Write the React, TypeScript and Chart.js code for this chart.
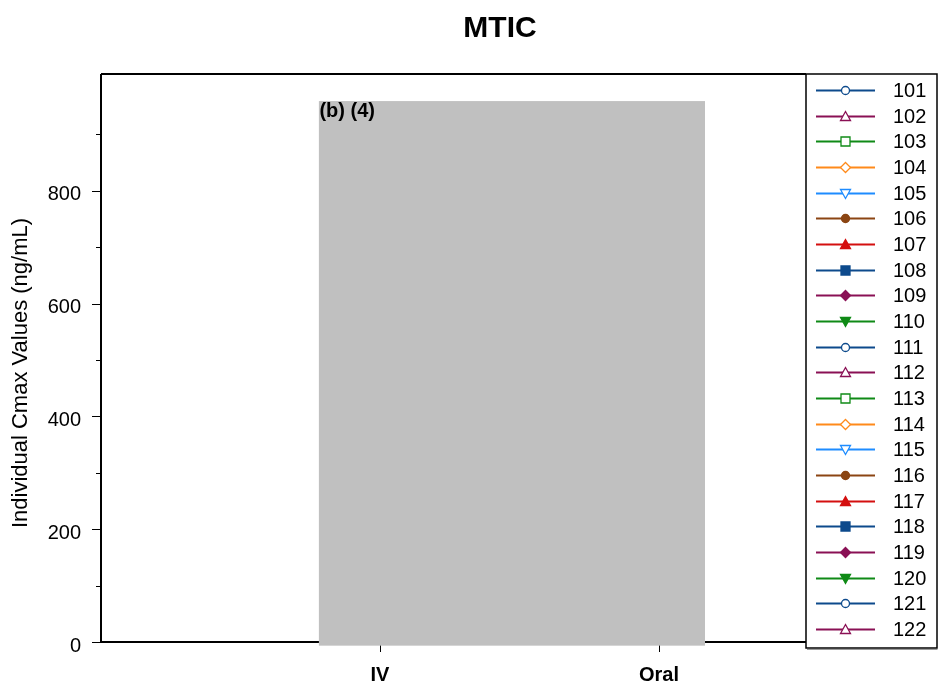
import React, { useEffect, useRef } from 'react';
import { Chart, registerables } from 'chart.js';

Chart.register(...registerables);

// ---------- data ----------
const TITLE = 'MTIC';
const Y_TITLE = 'Individual Cmax Values (ng/mL)';
const CATEGORIES = ['IV', 'Oral'];
const CATEGORY_X = [1, 2];
const X_RANGE = [0, 2.527];
const Y_RANGE = [0, 1007];
const Y_TICKS = [0, 100, 200, 300, 400, 500, 600, 700, 800, 900];
const Y_LABELED = [0, 200, 400, 600, 800];
const SUBJECTS = [
  '101', '102', '103', '104', '105', '106', '107', '108', '109', '110', '111',
  '112', '113', '114', '115', '116', '117', '118', '119', '120', '121', '122',
];
// Individual values are concealed by the redaction box in the source; none are readable.
const SUBJECT_VALUES: number[][] = [
  [], [], [], [], [], [], [], [], [], [], [],
  [], [], [], [], [], [], [], [], [], [], [],
];
const REDACT_LABEL = '(b) (4)';
const REDACT_X = [0.781, 2.165];
const REDACT_Y = [-6.5, 959];

// ---------- styles ----------
const STYLE_COLORS = ['#0d4a8c', '#8a1055', '#0f8a16', '#ff8a1a', '#1e8cff', '#8b4513', '#d40f0f', '#0d4a8c', '#8a1055', '#0f8a16'];
const STYLE_MARKERS = ['circle', 'triangle', 'square', 'diamond', 'down', 'circle', 'triangle', 'square', 'diamond', 'down'];
const STYLE_FILLED = [false, false, false, false, false, true, true, true, true, true];
const FONT = '"Liberation Sans", Arial, Helvetica, sans-serif';

function markerPath(ctx: CanvasRenderingContext2D, kind: string, x: number, y: number) {
  ctx.beginPath();
  if (kind === 'circle') {
    ctx.arc(x, y, 4, 0, Math.PI * 2);
  } else if (kind === 'triangle') {
    ctx.moveTo(x, y - 5);
    ctx.lineTo(x + 5, y + 4);
    ctx.lineTo(x - 5, y + 4);
    ctx.closePath();
  } else if (kind === 'down') {
    ctx.moveTo(x, y + 5);
    ctx.lineTo(x + 5, y - 4);
    ctx.lineTo(x - 5, y - 4);
    ctx.closePath();
  } else if (kind === 'square') {
    ctx.rect(x - 4.5, y - 4.5, 9, 9);
  } else if (kind === 'diamond') {
    ctx.moveTo(x, y - 5);
    ctx.lineTo(x + 5, y);
    ctx.lineTo(x, y + 5);
    ctx.lineTo(x - 5, y);
    ctx.closePath();
  }
}

const decorPlugin = {
  id: 'decor',
  beforeDatasetsDraw(chart: any) {
    const { ctx, chartArea: a, scales } = chart;
    const x = scales.x;
    const y = scales.y;
    ctx.save();
    ctx.strokeStyle = '#000';
    ctx.lineWidth = 2;
    ctx.beginPath();
    ctx.moveTo(a.left, a.top);
    ctx.lineTo(a.right, a.top);
    ctx.moveTo(a.left, a.top);
    ctx.lineTo(a.left, a.bottom);
    ctx.moveTo(a.left, a.bottom);
    ctx.lineTo(a.right, a.bottom);
    ctx.stroke();
    ctx.lineWidth = 1;
    ctx.beginPath();
    Y_TICKS.forEach((v) => {
      const py = Math.round(y.getPixelForValue(v)) + 0.5;
      const len = Y_LABELED.includes(v) ? 9 : 5;
      ctx.moveTo(a.left - len, py);
      ctx.lineTo(a.left, py);
    });
    CATEGORY_X.forEach((v) => {
      const px = Math.round(x.getPixelForValue(v)) + 0.5;
      ctx.moveTo(px, a.bottom);
      ctx.lineTo(px, a.bottom + 10);
    });
    ctx.stroke();
    ctx.restore();
  },
  afterDatasetsDraw(chart: any) {
    const { ctx, scales } = chart;
    const x = scales.x;
    const y = scales.y;
    const x0 = x.getPixelForValue(REDACT_X[0]);
    const x1 = x.getPixelForValue(REDACT_X[1]);
    const y0 = y.getPixelForValue(REDACT_Y[1]);
    const y1 = y.getPixelForValue(REDACT_Y[0]);
    ctx.save();
    ctx.fillStyle = '#c0c0c0';
    ctx.fillRect(x0, y0, x1 - x0, y1 - y0);
    ctx.fillStyle = '#000';
    ctx.font = `bold 20px ${FONT}`;
    ctx.textAlign = 'left';
    ctx.textBaseline = 'alphabetic';
    ctx.fillText(REDACT_LABEL, x0 + 0.5, y0 + 16);
    ctx.restore();
  },
  afterDraw(chart: any) {
    const { ctx, chartArea: a } = chart;
    ctx.save();
    // title
    ctx.fillStyle = '#000';
    ctx.font = `bold 30px ${FONT}`;
    ctx.textAlign = 'center';
    ctx.textBaseline = 'alphabetic';
    ctx.fillText(TITLE, 500, 37);
    // y title
    ctx.save();
    ctx.translate(27, 373);
    ctx.rotate(-Math.PI / 2);
    ctx.font = `22px ${FONT}`;
    ctx.textAlign = 'center';
    ctx.fillText(Y_TITLE, 0, 0);
    ctx.restore();
    // legend box
    const lx0 = a.right;
    const lx1 = 937;
    const ly0 = a.top;
    const ly1 = 648;
    ctx.fillStyle = '#ffffff';
    ctx.fillRect(lx0, ly0, lx1 - lx0, ly1 - ly0);
    ctx.strokeStyle = '#9a9a9a';
    ctx.lineWidth = 1;
    ctx.beginPath();
    ctx.moveTo(lx0 + 1, ly1 + 1.5);
    ctx.lineTo(lx1 + 0.5, ly1 + 1.5);
    ctx.stroke();
    ctx.strokeStyle = '#000';
    ctx.lineWidth = 1.5;
    ctx.strokeRect(lx0, ly0, lx1 - lx0, ly1 - ly0);
    const ds = chart.data.datasets;
    const step = 25.67;
    ds.forEach((d: any, i: number) => {
      const cy = Math.round(ly0 + 16 + i * step) + 0.5;
      ctx.strokeStyle = d.borderColor;
      ctx.lineWidth = 2;
      ctx.beginPath();
      ctx.moveTo(lx0 + 10, cy);
      ctx.lineTo(lx0 + 69, cy);
      ctx.stroke();
      markerPath(ctx, d.markerKind, lx0 + 39.5, cy);
      ctx.fillStyle = d.markerFilled ? d.borderColor : '#ffffff';
      ctx.fill();
      ctx.lineWidth = 1.3;
      ctx.stroke();
      ctx.fillStyle = '#000';
      ctx.font = `20px ${FONT}`;
      ctx.textAlign = 'left';
      ctx.textBaseline = 'middle';
      ctx.fillText(d.label, lx0 + 87, cy + 1);
    });
    ctx.restore();
  },
};

export default function App() {
  const ref = useRef<HTMLCanvasElement | null>(null);
  useEffect(() => {
    if (!ref.current) return;
    const datasets = SUBJECTS.map((s, i) => {
      const k = i % STYLE_COLORS.length;
      return {
        label: s,
        data: SUBJECT_VALUES[i].map((v, j) => ({ x: CATEGORY_X[j], y: v })),
        borderColor: STYLE_COLORS[k],
        backgroundColor: STYLE_FILLED[k] ? STYLE_COLORS[k] : '#ffffff',
        borderWidth: 2,
        markerKind: STYLE_MARKERS[k],
        markerFilled: STYLE_FILLED[k],
      } as any;
    });
    const chart = new Chart(ref.current, {
      type: 'line',
      data: { datasets },
      plugins: [decorPlugin],
      options: {
        animation: false,
        responsive: false,
        devicePixelRatio: 1,
        layout: { padding: { top: 74, right: 132, left: 0, bottom: 0 } },
        plugins: { legend: { display: false }, title: { display: false }, tooltip: { enabled: false } },
        scales: {
          x: {
            type: 'linear',
            min: X_RANGE[0],
            max: X_RANGE[1],
            afterBuildTicks: (s: any) => {
              s.ticks = CATEGORY_X.map((v) => ({ value: v }));
            },
            afterFit: (s: any) => {
              s.height = 48;
            },
            grid: { display: false, drawTicks: false },
            border: { display: false },
            ticks: {
              padding: 21,
              maxRotation: 0,
              autoSkip: false,
              color: '#000',
              font: { family: FONT, size: 20, weight: 'bold' },
              callback: (v: any) => {
                const idx = CATEGORY_X.indexOf(Number(v));
                return idx >= 0 ? CATEGORIES[idx] : '';
              },
            },
          },
          y: {
            type: 'linear',
            min: Y_RANGE[0],
            max: Y_RANGE[1],
            afterBuildTicks: (s: any) => {
              s.ticks = Y_TICKS.map((v) => ({ value: v }));
            },
            afterFit: (s: any) => {
              s.width = 101;
            },
            grid: { display: false, drawTicks: false },
            border: { display: false },
            ticks: {
              padding: 20,
              labelOffset: 4,
              autoSkip: false,
              color: '#000',
              font: { family: FONT, size: 20 },
              callback: (v: any) => (Y_LABELED.includes(Number(v)) ? String(v) : ''),
            },
          },
        },
      } as any,
    });
    return () => chart.destroy();
  }, []);
  return (
    <div style={{ position: 'fixed', left: 0, top: 0, width: 938, height: 690, background: '#fff' }}>
      <canvas ref={ref} width={938} height={690} style={{ display: 'block', width: 938, height: 690 }} />
    </div>
  );
}
